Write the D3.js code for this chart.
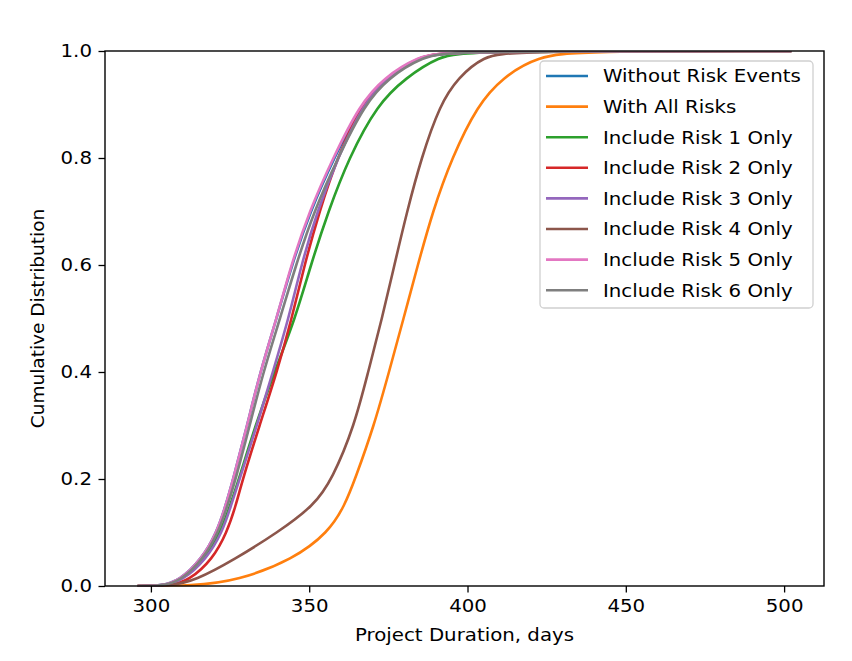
<!DOCTYPE html>
<html><head><meta charset="utf-8">
<script src="https://cdn.jsdelivr.net/npm/d3@7"></script>
<style>body{margin:0;background:#fff}svg{display:block}text{font-family:"DejaVu Sans",sans-serif;fill:#000}</style>
</head><body><svg id="c" width="852" height="661"></svg>
<script>
const seriesNames = ["Without Risk Events","With All Risks","Include Risk 1 Only","Include Risk 2 Only","Include Risk 3 Only","Include Risk 4 Only","Include Risk 5 Only","Include Risk 6 Only"];
const colors = ["#1f77b4","#ff7f0e","#2ca02c","#d62728","#9467bd","#8c564b","#e377c2","#7f7f7f"];
const probs = [0, 0.01, 0.05, 0.1, 0.15, 0.2, 0.3, 0.4, 0.5, 0.6, 0.7, 0.8, 0.9, 0.95, 0.99, 1];
const durMin = 295.8, durMax = 502.3;
const withoutRisk = [303, 309, 316, 320.8, 323.6, 326, 330.4, 334.5, 339.7, 344.5, 350.3, 357.8, 366.5, 374, 385, 394];
const withAllRisks = [313, 327.5, 345, 356, 361.2, 364.5, 370.5, 375.2, 379.8, 384.3, 389, 395, 403.3, 411, 422, 436];
const risk1Only = [304, 309.5, 316.8, 322, 325, 327.8, 333, 339, 345.6, 350.5, 356, 362.5, 371.5, 380.5, 391, 400];
const risk2Only = [306, 312, 319.5, 324, 326.8, 329, 334.3, 339.8, 344.5, 348.5, 353.2, 358.8, 366.5, 374, 385, 393];
const risk3Only = [304, 310, 317.5, 322.5, 325.3, 328, 333.5, 338.5, 343.5, 347.5, 352.5, 359, 367, 374.5, 385.5, 394];
const risk4Only = [306, 314, 326.5, 340, 351.5, 357.3, 364.3, 368.6, 373, 376.9, 380.9, 385.4, 391.3, 397, 405, 414];
const risk5Only = [303, 309, 316, 320.8, 323.6, 326, 330.4, 334.5, 339.7, 344.3, 350, 357.5, 366, 373.5, 384.5, 393];
const risk6Only = [303.5, 309.5, 316.5, 321.3, 324.2, 326.8, 331.2, 335.5, 340.8, 345.8, 351.5, 359, 367.5, 375, 386, 395];
const allSeries = [withoutRisk, withAllRisks, risk1Only, risk2Only, risk3Only, risk4Only, risk5Only, risk6Only];
const xTicks = [300, 350, 400, 450, 500];
const yTicks = [0.0, 0.2, 0.4, 0.6, 0.8, 1.0];

const L = 105, R = 824, T = 51, B = 586;
const fs = 18.5, sx = 1.07;
const svg = d3.select("#c");
const x = d3.scaleLinear().domain([285.5, 512.6]).range([L, R]);
const y = d3.scaleLinear().domain([0, 1]).range([B, T]);

svg.append("defs").append("clipPath").attr("id","clp").append("rect")
  .attr("x", L).attr("y", T + 0.5).attr("width", R - L).attr("height", B - T);

const line = d3.line().x(d => x(d[0])).y(d => y(d[1])).curve(d3.curveBasis);
const lines = svg.append("g").attr("clip-path","url(#clp)");
allSeries.forEach((s, i) => {
  const pts = [[durMin, 0], [durMin, 0]].concat(s.map((v, j) => [v, probs[j]])).concat([[durMax, 1], [durMax, 1]]);
  lines.append("path").attr("d", line(pts)).attr("fill","none")
    .attr("stroke", colors[i]).attr("stroke-width", 2.6);
});

// axes
const xAxis = svg.append("g").attr("transform", `translate(0,${B})`)
  .call(d3.axisBottom(x).tickValues(xTicks).tickFormat(d3.format("d")).tickSize(6.5).tickPadding(6.5));
const yAxis = svg.append("g").attr("transform", `translate(${L},0)`)
  .call(d3.axisLeft(y).tickValues(yTicks).tickFormat(d3.format(".1f")).tickSize(6.5).tickPadding(6.5));
[xAxis, yAxis].forEach(a => {
  a.select(".domain").remove();
  a.selectAll(".tick line").attr("stroke","#000").attr("stroke-width",1.3);
  a.selectAll(".tick text").attr("font-size", fs).attr("font-family","DejaVu Sans").attr("fill","#000");
});
xAxis.selectAll(".tick text").attr("transform", `scale(${sx},1)`);
yAxis.selectAll(".tick text").attr("x", -13 / sx).attr("transform", `scale(${sx},1)`);
svg.append("rect").attr("x", L).attr("y", T).attr("width", R - L).attr("height", B - T)
  .attr("fill","none").attr("stroke","#000").attr("stroke-width",1.4);

svg.append("text").attr("transform", `translate(${(L + R) / 2},641) scale(${sx},1)`).attr("text-anchor","middle")
  .attr("font-size", fs).text("Project Duration, days");
svg.append("text").attr("transform", `translate(44,${(T + B) / 2}) rotate(-90)`).attr("text-anchor","middle")
  .attr("font-size", fs).text("Cumulative Distribution");

// legend
const lg = svg.append("g");
lg.append("rect").attr("x", 540).attr("y", 61).attr("width", 273).attr("height", 247).attr("rx", 4)
  .attr("fill","#fff").attr("fill-opacity",0.8).attr("stroke","#d0d0d0").attr("stroke-width",1.3);
seriesNames.forEach((n, i) => {
  const cy = 76 + i * 30.6;
  lg.append("line").attr("x1", 546).attr("x2", 588).attr("y1", cy).attr("y2", cy)
    .attr("stroke", colors[i]).attr("stroke-width", 2.6);
  lg.append("text").attr("transform", `translate(603,${cy}) scale(${sx},1)`).attr("dy","0.35em")
    .attr("font-size", fs).text(n);
});
</script></body></html>
